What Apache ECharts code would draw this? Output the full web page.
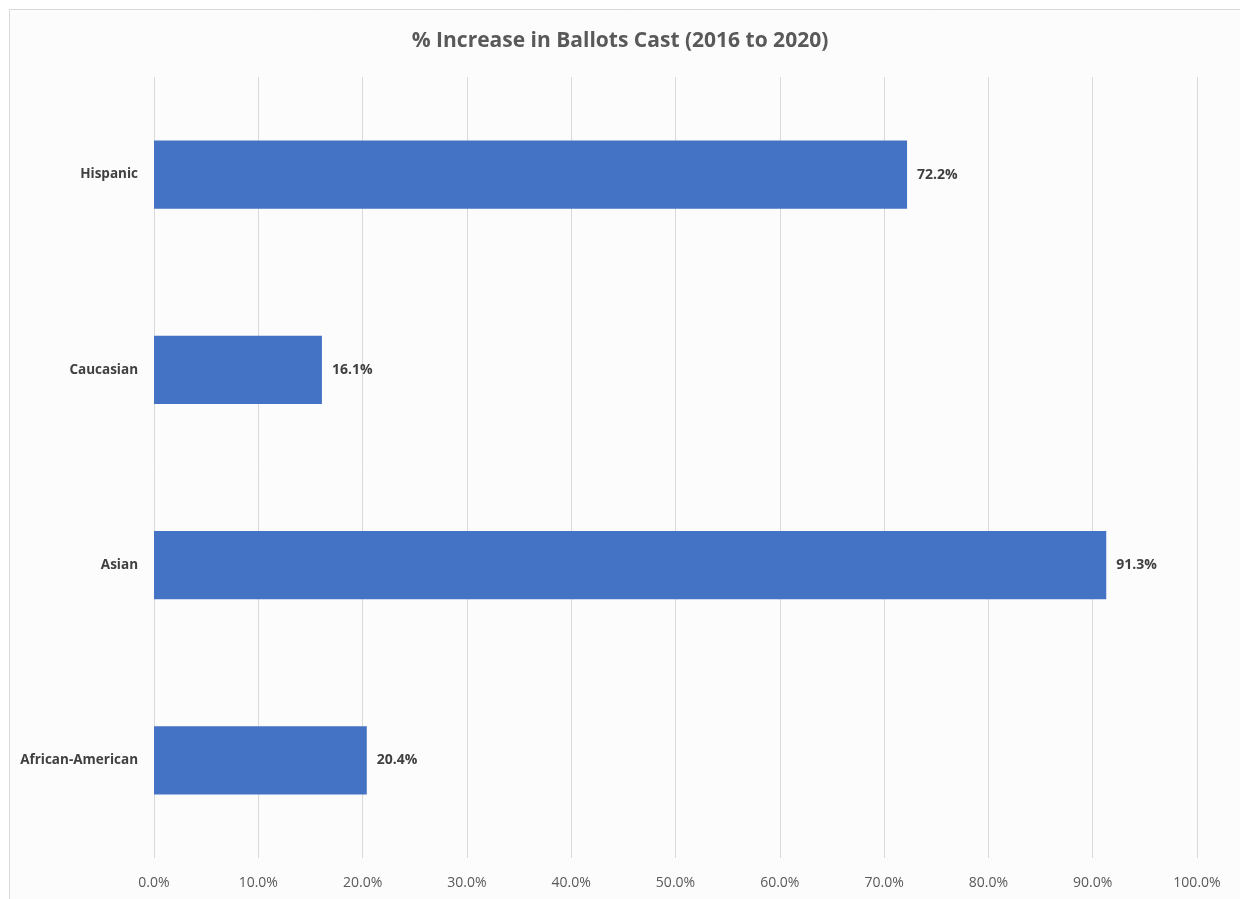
<!DOCTYPE html>
<html>
<head>
<meta charset="utf-8">
<style>
    html, body {margin: 0; padding: 0; background: #fff;}
    #chart {width: 1240px; height: 899px;}
</style>
<script src="https://cdn.jsdelivr.net/npm/echarts@6/dist/echarts.min.js"></script>
</head>
<body>
<div id="chart"></div>
<script>
    var categories = ['African-American', 'Asian', 'Caucasian', 'Hispanic'];
    var increases = [20.4, 91.3, 16.1, 72.2];
    var xTicks = [0, 10, 20, 30, 40, 50, 60, 70, 80, 90, 100];

    var font = '"Open Sans", "Liberation Sans", sans-serif';
    var myChart = echarts.init(document.getElementById('chart'));
    var option = {
        backgroundColor: '#fff',
        animation: false,
        title: {
            text: '% Increase in Ballots Cast (2016 to 2020)',
            left: 'center',
            top: 26,
            textStyle: {fontFamily: font, fontSize: 21, fontWeight: 'bold', color: '#595959'}
        },
        graphic: [{
            type: 'rect',
            shape: {x: 9.5, y: 9.5, width: 1300, height: 1000},
            style: {fill: '#fcfcfc', stroke: '#d9d9d9', lineWidth: 1},
            z: -10
        }],
        grid: {left: 154, right: 43, top: 77, bottom: 41},
        xAxis: {
            type: 'value',
            min: xTicks[0],
            max: xTicks[xTicks.length - 1],
            interval: 10,
            axisLine: {show: false},
            axisTick: {show: false},
            splitLine: {show: true, lineStyle: {color: '#d9d9d9', width: 1}},
            axisLabel: {
                margin: 18,
                fontFamily: font, fontSize: 14, color: '#595959',
                formatter: function (v) { return v.toFixed(1) + '%'; }
            }
        },
        yAxis: {
            type: 'category',
            data: categories,
            axisLine: {show: false},
            axisTick: {show: false},
            axisLabel: {margin: 16, fontFamily: font, fontSize: 13.5, fontWeight: 'bold', color: '#404040'}
        },
        series: [{
            type: 'bar',
            data: increases,
            barWidth: '35%',
            itemStyle: {color: '#4472c4'},
            label: {
                show: true,
                position: 'right',
                distance: 10,
                fontFamily: font, fontSize: 14, fontWeight: 'bold', color: '#404040',
                formatter: function (p) { return p.value.toFixed(1) + '%'; }
            }
        }]
    };
    myChart.setOption(option);
</script>
</body>
</html>
